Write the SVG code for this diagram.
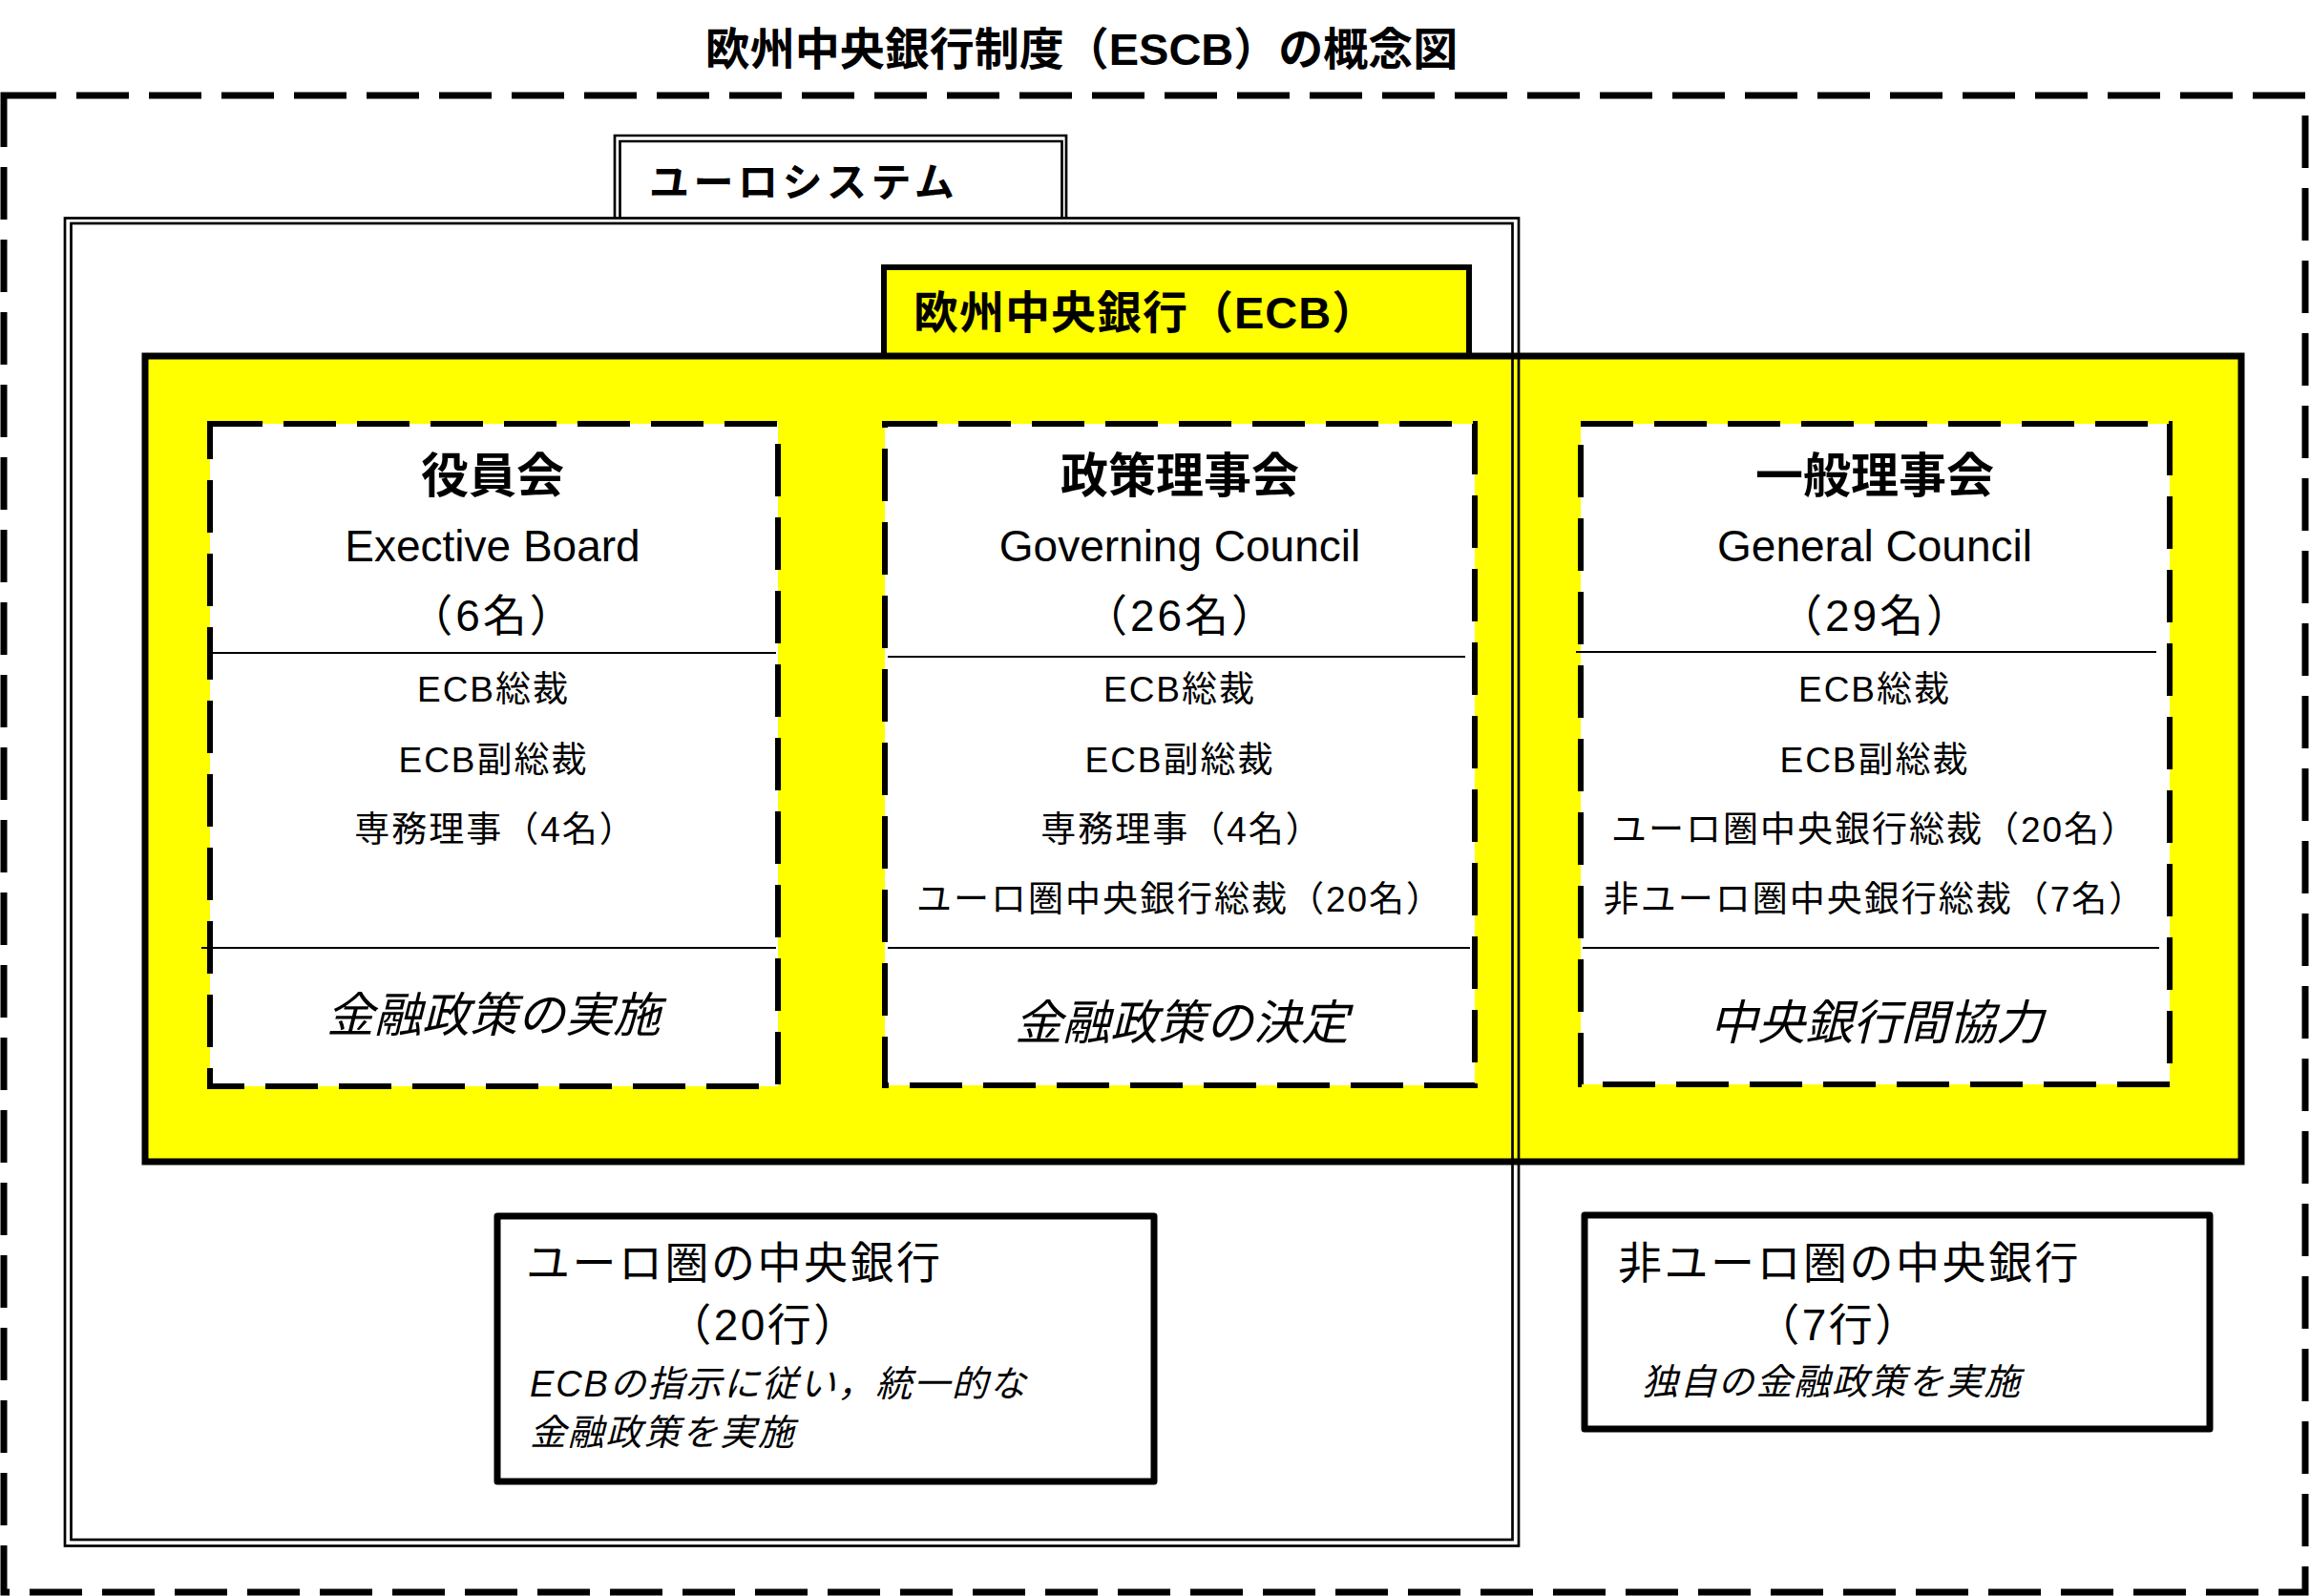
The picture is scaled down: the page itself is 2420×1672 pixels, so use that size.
<svg xmlns="http://www.w3.org/2000/svg" width="2420" height="1672" viewBox="0 0 2420 1672">
<style>
text { font-family: "Liberation Sans", "Noto Sans CJK JP", sans-serif; fill: #000; }
.b { font-weight: bold; }
.title { font-size: 47px; font-weight: bold; }
.hdr { font-size: 50px; font-weight: bold; text-anchor: middle; }
.en { font-size: 46px; text-anchor: middle; }
.cnt { font-size: 46px; text-anchor: middle; letter-spacing: 3px; }
.mem { font-size: 37px; text-anchor: middle; letter-spacing: 2px; }
.role { font-size: 50px; font-style: italic; text-anchor: middle; }
.bt { font-size: 46px; letter-spacing: 2.5px; }
.bi { font-size: 38px; font-style: italic; letter-spacing: 1.8px; }
.dash { fill: #fff; stroke: #000; stroke-width: 6; stroke-dasharray: 55 22; }
.sep { stroke: #000; stroke-width: 1.8; fill: none; }
.dbl { fill: none; stroke: #000; stroke-width: 2.7; }
.solid { fill: #fff; stroke: #000; stroke-width: 7; stroke-linejoin: round; }
</style>

<text class="title" x="1133" y="68" text-anchor="middle">欧州中央銀行制度（ESCB）の概念図</text>

<g id="escb">
  <rect x="4" y="100" width="2411" height="1568" fill="none" stroke="#000" stroke-width="7" stroke-dasharray="55 21"/>
</g>

<g id="eurosystem-tab">
  <path d="M644,229 V142 H1117 V229" fill="#fff" class="dbl"/>
  <path d="M649.5,229 V148 H1112.5 V229" class="dbl"/>
  <text class="b" x="680" y="206" font-size="42" letter-spacing="4.5">ユーロシステム</text>
</g>

<g id="ecb">
  <rect x="926" y="280" width="613" height="93" fill="#ffff00" stroke="#000" stroke-width="6"/>
  <text class="b" x="957" y="344" font-size="47" letter-spacing="1">欧州中央銀行（ECB）</text>
  <rect x="152" y="373" width="2196" height="844" fill="#ffff00" stroke="#000" stroke-width="7"/>
</g>

<g id="eurosystem">
  <rect x="68" y="228.5" width="1523" height="1391" class="dbl"/>
  <rect x="74.5" y="234" width="1510" height="1379" class="dbl"/>
</g>

<g id="executive-board">
  <rect x="220" y="444" width="595" height="694" class="dash"/>
  <text class="hdr" x="516" y="516">役員会</text>
  <text class="en" x="516" y="588">Exective Board</text>
  <text class="cnt" x="516" y="661">（6名）</text>
  <line x1="220" y1="684" x2="813" y2="684" class="sep"/>
  <text class="mem" x="517" y="735">ECB総裁</text>
  <text class="mem" x="517" y="809">ECB副総裁</text>
  <text class="mem" x="519" y="882">専務理事（4名）</text>
  <line x1="211" y1="993" x2="813" y2="993" class="sep"/>
  <text class="role" x="517" y="1081">金融政策の実施</text>
</g>

<g id="governing-council">
  <rect x="927" y="444" width="618" height="693" class="dash"/>
  <text class="hdr" x="1236" y="516">政策理事会</text>
  <text class="en" x="1236" y="588">Governing Council</text>
  <text class="cnt" x="1237" y="661">（26名）</text>
  <line x1="930" y1="688" x2="1535" y2="688" class="sep"/>
  <text class="mem" x="1236" y="735">ECB総裁</text>
  <text class="mem" x="1236" y="809">ECB副総裁</text>
  <text class="mem" x="1238" y="882">専務理事（4名）</text>
  <text class="mem" x="1236" y="955">ユーロ圏中央銀行総裁（20名）</text>
  <line x1="930" y1="993" x2="1540" y2="993" class="sep"/>
  <text class="role" x="1238" y="1089">金融政策の決定</text>
</g>

<g id="general-council">
  <rect x="1656" y="444" width="617" height="692" class="dash"/>
  <text class="hdr" x="1964" y="516">一般理事会</text>
  <text class="en" x="1964" y="588">General Council</text>
  <text class="cnt" x="1965" y="661">（29名）</text>
  <line x1="1651" y1="683" x2="2259" y2="683" class="sep"/>
  <text class="mem" x="1964" y="735">ECB総裁</text>
  <text class="mem" x="1964" y="809">ECB副総裁</text>
  <text class="mem" x="1964" y="882">ユーロ圏中央銀行総裁（20名）</text>
  <text class="mem" x="1964" y="955">非ユーロ圏中央銀行総裁（7名）</text>
  <line x1="1658" y1="993" x2="2262" y2="993" class="sep"/>
  <text class="role" x="1966" y="1089">中央銀行間協力</text>
</g>

<g id="euro-area-ncbs">
  <rect x="521" y="1274" width="688" height="278" class="solid"/>
  <text class="bt" x="551" y="1339">ユーロ圏の中央銀行</text>
  <text class="bt" x="800" y="1404" text-anchor="middle">（20行）</text>
  <text class="bi" x="555" y="1463">ECBの指示に従い，統一的な</text>
  <text class="bi" x="555" y="1514">金融政策を実施</text>
</g>

<g id="non-euro-area-ncbs">
  <rect x="1660" y="1273" width="655" height="224" class="solid"/>
  <text class="bt" x="1695" y="1339" letter-spacing="3">非ユーロ圏の中央銀行</text>
  <text class="bt" x="1926" y="1404" text-anchor="middle">（7行）</text>
  <text class="bi" x="1720" y="1461" letter-spacing="2.5">独自の金融政策を実施</text>
</g>

<g id="connectors"></g>
</svg>
